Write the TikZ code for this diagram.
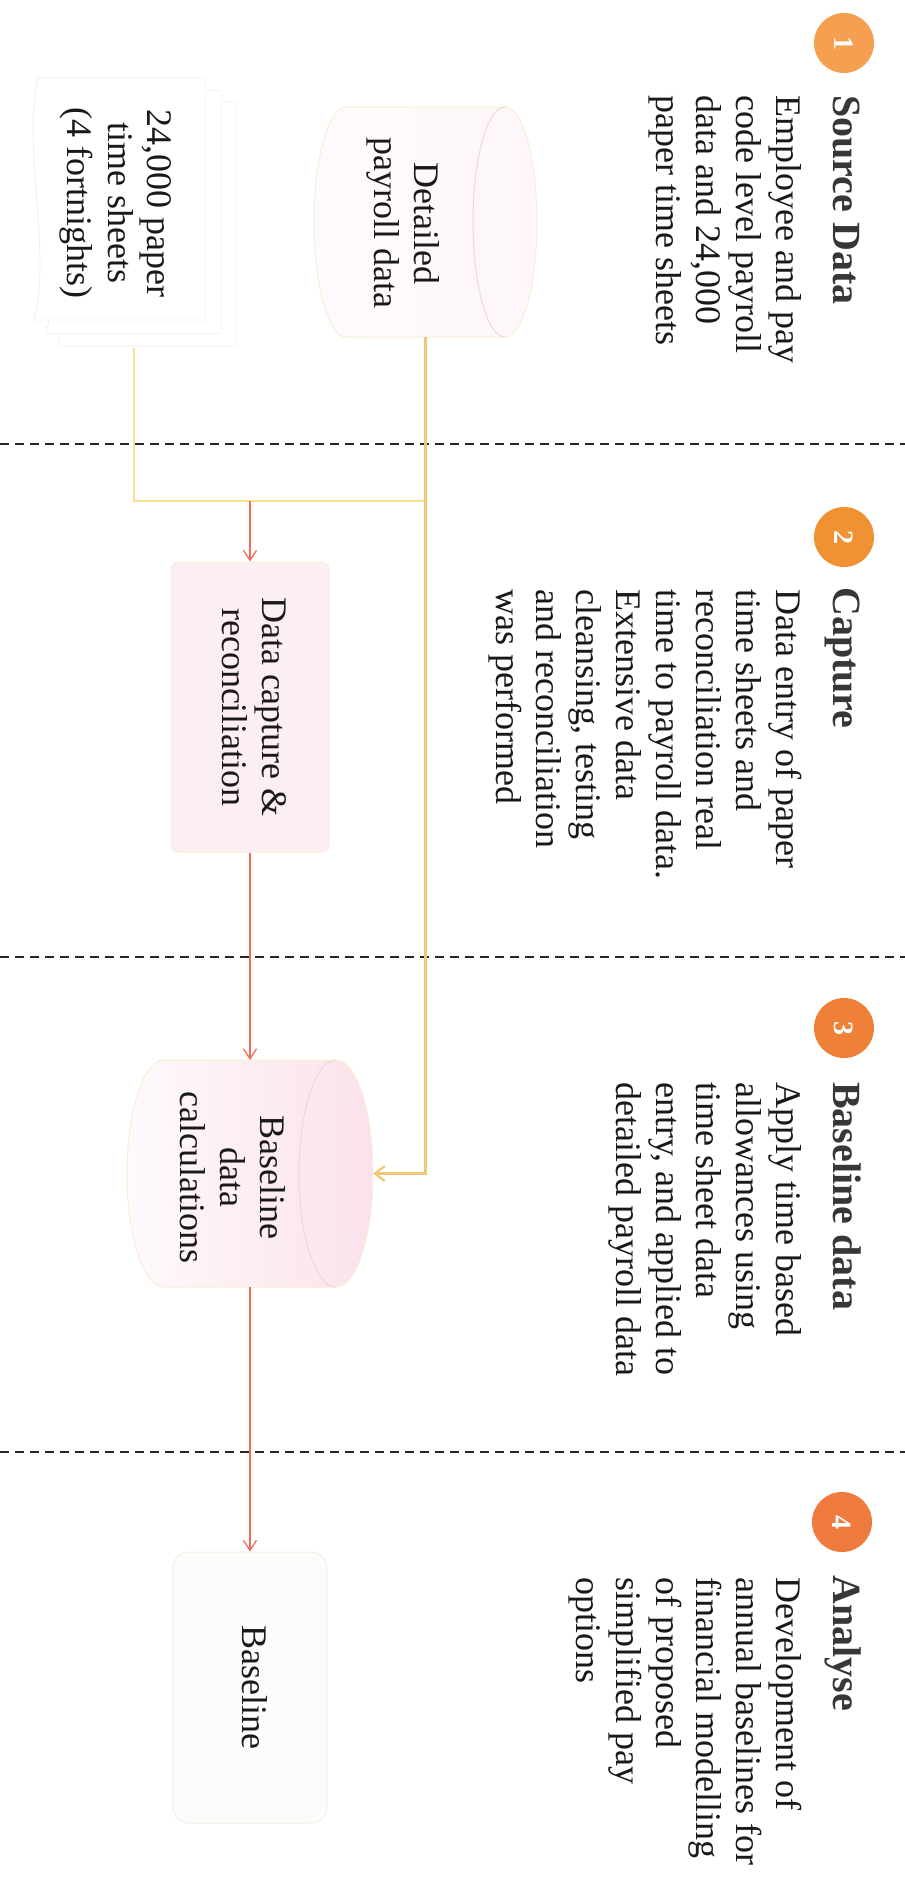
\documentclass[tikz,border=0pt]{standalone}
\usepackage{fontspec}
\setmainfont{Liberation Serif}
\usepackage{graphicx}
\usetikzlibrary{arrows.meta}
\definecolor{badgeA}{RGB}{244,160,80}
\definecolor{badgeB}{RGB}{240,146,52}
\definecolor{badgeC}{RGB}{238,128,55}
\definecolor{badgeD}{RGB}{238,122,62}
\definecolor{ttlc}{RGB}{55,55,55}
\definecolor{txtc}{RGB}{25,25,25}
\definecolor{yel}{RGB}{248,224,145}
\definecolor{yelo}{RGB}{244,198,115}
\definecolor{redl}{RGB}{242,108,92}
\definecolor{pinkA}{RGB}{254,246,249}
\definecolor{pinkB}{RGB}{251,226,234}
\definecolor{pinkC}{RGB}{252,238,245}
\definecolor{edgeY}{RGB}{248,239,212}
\definecolor{edgeP}{RGB}{240,214,222}
\definecolor{faintc}{RGB}{242,239,234}
\newcommand\vtxt[1]{\rotatebox{-90}{\fontsize{36}{40}\selectfont\begin{tabular}{@{}c@{}}#1\end{tabular}}}
\begin{document}
\begin{tikzpicture}[x=1pt,y=-1pt,
  sepline/.style={black!85, line width=1.8pt, dash pattern=on 9pt off 6pt},
  badge/.style={circle, minimum size=60pt, inner sep=0pt, text=white, font=\fontsize{28}{30}\selectfont\bfseries, rotate=-90},
  ttl/.style={rotate=-90, anchor=base west, inner sep=0pt, text=ttlc, font=\fontsize{40}{44}\selectfont\bfseries},
  body/.style={rotate=-90, anchor=north west, inner sep=0pt, align=left, text=txtc, font=\fontsize{36}{40}\selectfont},
  intext/.style={inner sep=0pt, text=txtc},
  hold/.style={inner sep=0pt, outer sep=0pt},
  yline/.style={yel, line width=2.2pt},
  rline/.style={redl, line width=1.3pt, -{Straight Barb[length=10pt,width=13pt]}},
]
\useasboundingbox (0,0) rectangle (905,1891);
\fill[white] (0,0) rectangle (905,1891);

% separators
\draw[sepline] (0,444) -- (905,444);
\draw[sepline] (0,957) -- (905,957);
\draw[sepline] (0,1452) -- (905,1452);

% stage headings
\node[badge, fill=badgeA] (b1) at (844,43) {1};
\node[badge, fill=badgeB] (b2) at (844,537) {2};
\node[badge, fill=badgeC] (b3) at (844,1028) {3};
\node[badge, fill=badgeD] (b4) at (842,1522) {4};

\node[ttl] (t1) at (833,95) {Source Data};
\node[ttl] (t2) at (833,587) {Capture};
\node[ttl] (t3) at (833,1082) {Baseline data};
\node[ttl] (t4) at (833,1575) {Analyse};

\node[body] (d1) at (802,95) {Employee and pay\\code level payroll\\data and 24,000\\paper time sheets};
\node[body] (d2) at (802,589) {Data entry of paper\\time sheets and\\reconciliation real\\time to payroll data.\\Extensive data\\cleansing, testing\\and reconciliation\\was performed};
\node[body] (d3) at (802,1082) {Apply time based\\allowances using\\time sheet data\\entry, and applied to\\detailed payroll data};
\node[body] (d4) at (802,1577) {Development of\\annual baselines for\\financial modelling\\of proposed\\simplified pay\\options};

% time sheets (document stack, very faint)
\node[hold, minimum width=208pt, minimum height=270pt] (ts) at (134,213) {};
\filldraw[faintc, fill=white, line width=0.8pt] (236,102) -- (62,102) .. controls (46,170) and (76,270) .. (58,346) -- (236,346) -- cycle;
\filldraw[faintc, fill=white, line width=0.8pt] (222,90) -- (50,90) .. controls (34,160) and (64,260) .. (46,334) -- (222,334) -- cycle;
\filldraw[faintc, fill=white!98!pinkA, line width=0.8pt] (206,78) -- (38,78) .. controls (22,150) and (52,250) .. (34,320) -- (206,320) -- cycle;
\node[intext] (tst) at (116,203) {\vtxt{24,000 paper\\time sheets\\(4 fortnights)}};

% detailed payroll data (cylinder)
\node[hold, minimum width=223pt, minimum height=230pt] (dp) at (425.5,222) {};
\shadedraw[left color=pinkA!50!white, right color=pinkA, draw=edgeY, line width=1pt]
  (346,107) -- (505,107) arc[start angle=-90, end angle=90, x radius=32, y radius=115]
  -- (346,337) arc[start angle=90, end angle=270, x radius=32, y radius=115] -- cycle;
\draw[edgeP, line width=1pt] (505,107) arc[start angle=-90, end angle=-270, x radius=32, y radius=115];
\node[intext] (dpt) at (402,223) {\vtxt{Detailed\\payroll data}};

% data capture & reconciliation
\node[draw=edgeY, fill=pinkC, rounded corners=8pt, line width=1pt, minimum width=158pt, minimum height=290pt, inner sep=0pt, text=txtc] (dc) at (250,707) {\vtxt{Data capture \&\\reconciliation}};

% baseline data calculations (cylinder)
\node[hold, minimum width=246pt, minimum height=227pt] (bcn) at (250,1173.5) {};
\shadedraw[left color=pinkA!60!white, right color=pinkB, draw=edgeY, line width=1pt]
  (164,1060) -- (336,1060) arc[start angle=-90, end angle=90, x radius=37, y radius=113.5]
  -- (164,1287) arc[start angle=90, end angle=270, x radius=37, y radius=113.5] -- cycle;
\draw[edgeP, line width=1pt] (336,1060) arc[start angle=-90, end angle=-270, x radius=37, y radius=113.5];
\node[intext] (bct) at (228,1177) {\vtxt{Baseline\\data\\calculations}};

% baseline
\node[draw=faintc, fill={rgb,255:red,254;green,252;blue,250}, rounded corners=16pt, line width=1pt, minimum width=154pt, minimum height=271pt, inner sep=0pt, text=txtc] (bl) at (250,1687.5) {\vtxt{Baseline}};

% connectors
\coordinate (jr) at (425.5,501);
\coordinate (jm) at (250,501);
\draw[yline] (ts.south) |- (jr);
\draw[yline, yelo, -{Straight Barb[length=10pt,width=15pt]}] (dp.south) |- (bcn.east);
\draw[rline] (jm) -- (dc.north);
\draw[rline] (dc.south) -- (bcn.north);
\draw[rline] (bcn.south) -- (bl.north);
\end{tikzpicture}
\end{document}
